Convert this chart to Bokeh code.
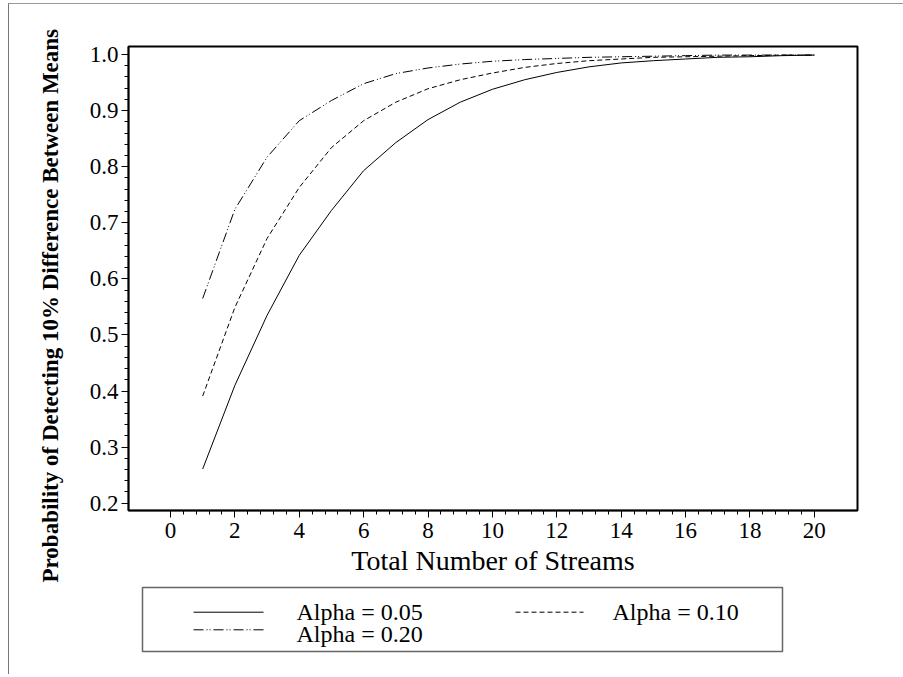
from bokeh.plotting import figure
from bokeh.layouts import column
from bokeh.models import FixedTicker, PrintfTickFormatter, Title
from bokeh.core.properties import value
from bokeh.embed import file_html
from bokeh.resources import INLINE

# ---- data ----
streams = [1, 2, 3, 4, 5, 6, 7, 8, 9, 10, 11, 12, 13, 14, 15, 16, 17, 18, 19, 20]
alpha_05 = [0.261, 0.410, 0.535, 0.642, 0.722, 0.793, 0.843, 0.884, 0.915, 0.938,
            0.955, 0.968, 0.978, 0.985, 0.989, 0.992, 0.995, 0.996, 0.998, 0.999]
alpha_10 = [0.391, 0.549, 0.672, 0.763, 0.834, 0.882, 0.915, 0.939, 0.955, 0.967,
            0.977, 0.984, 0.989, 0.992, 0.995, 0.996, 0.997, 0.998, 0.999, 0.999]
alpha_20 = [0.565, 0.724, 0.817, 0.882, 0.918, 0.948, 0.966, 0.976, 0.983, 0.988,
            0.991, 0.993, 0.995, 0.996, 0.997, 0.998, 0.999, 0.999, 0.999, 0.999]
series_labels = ["Alpha = 0.05", "Alpha = 0.10", "Alpha = 0.20"]
x_ticks = [0, 2, 4, 6, 8, 10, 12, 14, 16, 18, 20]
y_ticks = [0.2, 0.3, 0.4, 0.5, 0.6, 0.7, 0.8, 0.9, 1.0]
x_title = "Total Number of Streams"
y_title = "Probability of Detecting 10% Difference Between Means"

FONT = "Liberation Serif"
dashes = ["solid", "5 3", "10 3 1 2 1 3"]

p = figure(width=894, height=580, x_range=(-1.304, 21.34), y_range=(0.187, 1.0143),
           output_backend="svg", toolbar_location=None,
           min_border_left=119, min_border_right=46, min_border_top=42, min_border_bottom=74)
p.xgrid.visible = False
p.ygrid.visible = False
p.outline_line_color = "black"
p.outline_line_width = 2

for ys, d in zip([alpha_05, alpha_10, alpha_20], dashes):
    p.line(streams, ys, line_color="black", line_width=1, line_dash=d)

x_minor = [i * 0.4 for i in range(0, 51)]
y_minor = [0.2 + i * 0.02 for i in range(0, 41)]
p.xaxis.ticker = FixedTicker(ticks=x_ticks, minor_ticks=x_minor)
p.yaxis.ticker = FixedTicker(ticks=y_ticks, minor_ticks=y_minor)
p.yaxis.formatter = PrintfTickFormatter(format="%.1f")

for ax in (p.xaxis[0], p.yaxis[0]):
    ax.axis_line_color = "black"
    ax.axis_line_width = 1.5
    ax.major_tick_line_color = "black"
    ax.minor_tick_line_color = "black"
    ax.major_tick_in = 0
    ax.major_tick_out = 7
    ax.minor_tick_in = 0
    ax.minor_tick_out = 4
    ax.major_label_text_font = FONT
    ax.major_label_text_font_size = "23px"
    ax.major_label_text_color = "black"
    ax.axis_label_text_font = FONT
    ax.axis_label_text_color = "black"
    ax.axis_label_text_font_style = "normal"

p.xaxis.axis_label = x_title
p.xaxis.axis_label_text_font_size = "28px"
p.xaxis.major_label_standoff = 5
p.xaxis.axis_label_standoff = 4
p.yaxis.major_label_standoff = 3

# vertical title in the left panel, starting below the frame bottom as in the reference
p.add_layout(Title(text=y_title, align="left", offset=-72, standoff=47,
                   text_font=FONT, text_font_size="23px", text_font_style="bold",
                   text_color="black"), "left")

# ---- legend panel (page-pixel coordinates; y measured from the top) ----
leg = figure(width=894, height=90, x_range=(128, 857), y_range=(674, 584),
             output_backend="svg", toolbar_location=None,
             x_axis_location=None, y_axis_location=None,
             min_border_left=119, min_border_right=46, min_border_top=0, min_border_bottom=0)
leg.grid.visible = False
leg.outline_line_alpha = 0
leg.quad(left=[142], right=[782], top=[587], bottom=[651], fill_alpha=0,
         line_color="#666666", line_width=1.5)

sample_x0 = [193, 515, 193]
sample_x1 = [263, 583, 263]
sample_y = [611.7, 611.7, 629.3]
text_x = [296, 612, 296]
text_y = [611, 611, 633]
for x0, x1, sy, d in zip(sample_x0, sample_x1, sample_y, dashes):
    leg.line([x0, x1], [sy, sy], line_color="black", line_width=1, line_dash=d)
leg.text(x=text_x, y=text_y, text=series_labels, text_font=value(FONT),
         text_font_size="24px", text_baseline="middle", text_align="left",
         text_color="black")

layout = column(p, leg, styles={"margin-top": "3px", "margin-left": "8px",
                                "border-left": "1px solid #777",
                                "border-top": "1px solid #999"})

open("out.html", "w").write(file_html(layout, INLINE))
